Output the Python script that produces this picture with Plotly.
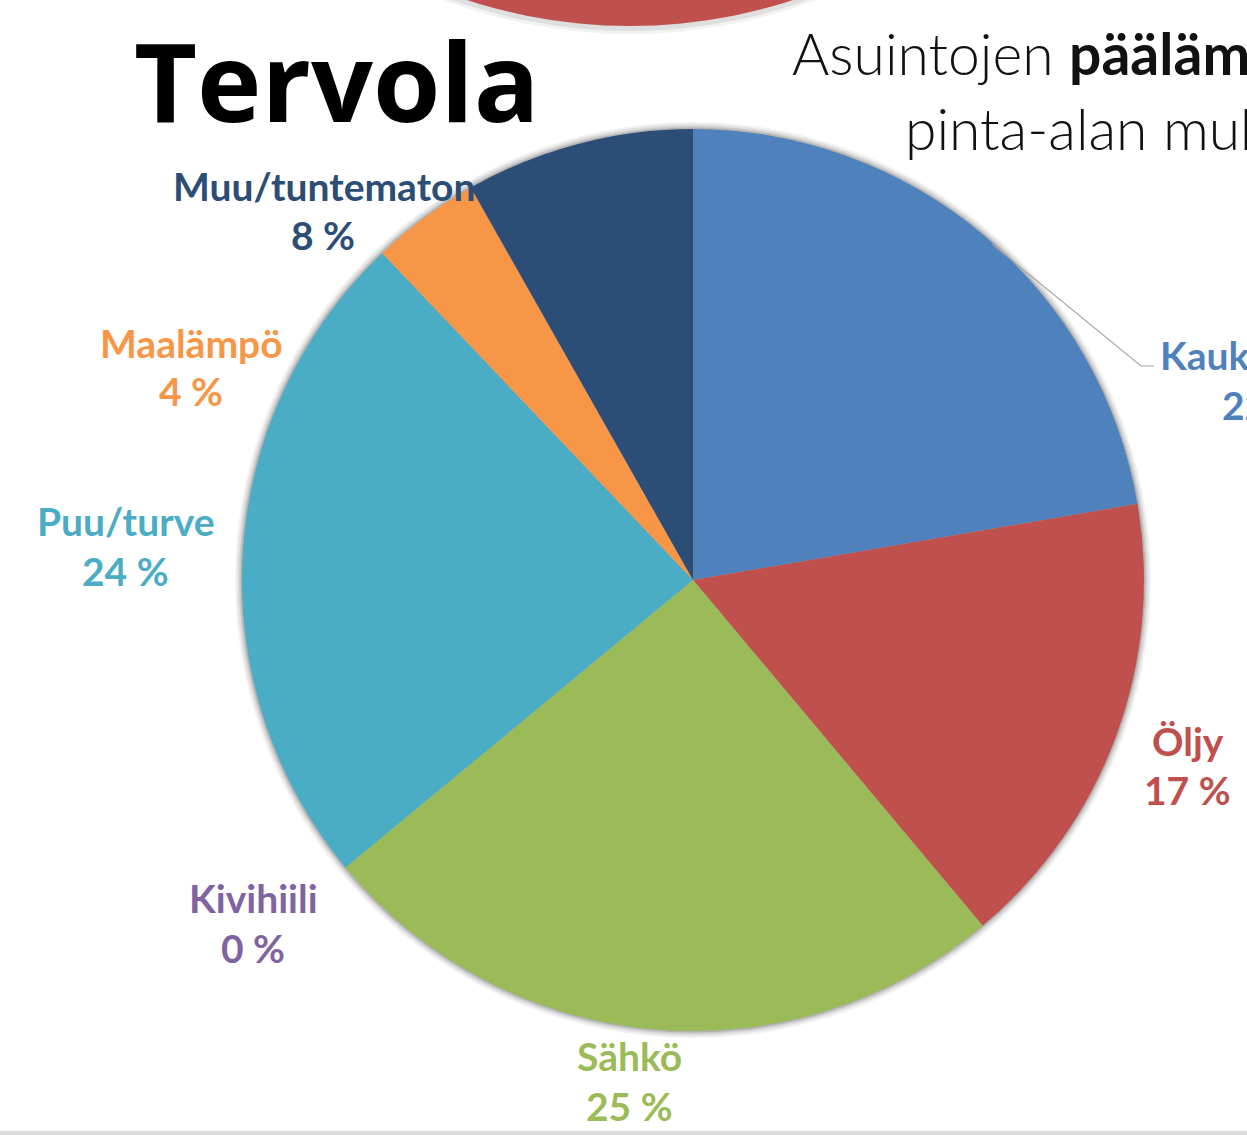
import plotly.graph_objects as go

# ---- data ----
categories = ["Kaukolämpö", "Öljy", "Sähkö", "Kivihiili", "Puu/turve", "Maalämpö", "Muu/tuntematon"]
shares = [22.3, 16.6, 25.1, 0.0, 23.9, 3.9, 8.2]
slice_colors = ["#4F81BD", "#C0504D", "#9BBB59", "#8064A2", "#4BACC6", "#F79646", "#2C4D75"]
label_colors = ["#4F81BD", "#C0504D", "#9BBB59", "#8064A2", "#4BACC6", "#F79646", "#2C4D75"]

W, H = 1247, 1135
CX, CY, R = 693, 580, 451


def px(x):
    return x / W


def py(y):
    return 1 - y / H


fig = go.Figure()
fig.add_trace(go.Pie(
    labels=categories,
    values=shares,
    sort=False,
    direction="clockwise",
    rotation=0,
    marker=dict(colors=slice_colors, line=dict(width=0)),
    textinfo="none",
    hoverinfo="label+percent",
    showlegend=False,
    domain=dict(x=[px(CX - R), px(CX + R)], y=[py(CY + R), py(CY - R)]),
))

shapes = []
# soft shadow behind pie
for d, op in [(7, 0.05), (5, 0.07), (3, 0.09), (1.5, 0.12)]:
    shapes.append(dict(type="circle", xref="paper", yref="paper",
                       x0=px(CX - R - d), x1=px(CX + R + d),
                       y0=py(CY + R + d), y1=py(CY - R - d),
                       fillcolor=f"rgba(0,0,0,{op})", line=dict(width=0), layer="below"))
# partial red circle at the top (neighbouring graphic)
RC_X, RC_Y, RC_R = 630, -498, 524
for d, op in [(6, 0.05), (3, 0.08)]:
    shapes.append(dict(type="circle", xref="paper", yref="paper",
                       x0=px(RC_X - RC_R - d), x1=px(RC_X + RC_R + d),
                       y0=py(RC_Y + RC_R + d + 2), y1=py(RC_Y - RC_R - d),
                       fillcolor=f"rgba(0,0,0,{op})", line=dict(width=0), layer="below"))
shapes.append(dict(type="circle", xref="paper", yref="paper",
                   x0=px(RC_X - RC_R), x1=px(RC_X + RC_R),
                   y0=py(RC_Y + RC_R), y1=py(RC_Y - RC_R),
                   fillcolor="#C0504D", line=dict(width=0), layer="below"))
# leader line for Kaukolämpö
shapes.append(dict(type="path", xref="paper", yref="paper",
                   path=f"M {px(992)},{py(244)} L {px(1141)},{py(366)} L {px(1154)},{py(366)}",
                   line=dict(color="#A6A6A6", width=1.2)))
# bottom grey rule
shapes.append(dict(type="rect", xref="paper", yref="paper",
                   x0=0, x1=1, y0=py(1135), y1=py(1131),
                   fillcolor="#DCDCDC", line=dict(width=0)))

annotations = []
# (x, name-line centre y, percent-line centre y, anchor, percent x)
label_pos = {
    "Kaukolämpö": (1158, 355, 405, "left", 1220),
    "Öljy": (1188, 741, 790, "center", 1187),
    "Sähkö": (629, 1056, 1106, "center", 629),
    "Kivihiili": (253, 898, 948, "center", 253),
    "Puu/turve": (125, 521, 571, "center", 125),
    "Maalämpö": (191, 343, 391, "center", 191),
    "Muu/tuntematon": (324, 186, 235, "center", 323),
}
LFONT = "Lato, Carlito, 'Open Sans', sans-serif"
for cat, val, col in zip(categories, shares, label_colors):
    x, y1, y2, anc, x2 = label_pos[cat]
    annotations.append(dict(
        x=px(x), y=py(y1), xref="paper", yref="paper",
        xanchor=anc, yanchor="middle", showarrow=False,
        text=f"<b>{cat}</b>",
        font=dict(family=LFONT, size=39, color=col),
    ))
    annotations.append(dict(
        x=px(x2), y=py(y2), xref="paper", yref="paper",
        xanchor=anc, yanchor="middle", showarrow=False,
        text=f"<b>{round(val):d} %</b>",
        font=dict(family=LFONT, size=39, color=col),
    ))

annotations.append(dict(
    x=px(132), y=py(80), xref="paper", yref="paper", xanchor="left", yanchor="middle",
    showarrow=False, text="<b>Tervola</b>",
    font=dict(family="'Open Sans', Lato, sans-serif", size=109, color="#000000"),
))
annotations.append(dict(
    x=px(790), y=py(53), xref="paper", yref="paper", xanchor="left", yanchor="middle",
    showarrow=False, text="Asuintojen <b>päälämmitysmuodot</b>",
    font=dict(family="Lato, 'Open Sans', sans-serif", size=57, color="#111111", weight=300),
))
annotations.append(dict(
    x=px(903), y=py(128), xref="paper", yref="paper", xanchor="left", yanchor="middle",
    showarrow=False, text="pinta-alan mukaan",
    font=dict(family="Lato, 'Open Sans', sans-serif", size=57, color="#111111", weight=300),
))

fig.update_layout(
    width=W, height=H,
    margin=dict(l=0, r=0, t=0, b=0),
    paper_bgcolor="#FFFFFF",
    plot_bgcolor="#FFFFFF",
    shapes=shapes,
    annotations=annotations,
    showlegend=False,
)

fig.write_html("out.html",
               config={"displayModeBar": False},
               post_script="document.body.style.margin='0';document.body.style.overflow='hidden';")
